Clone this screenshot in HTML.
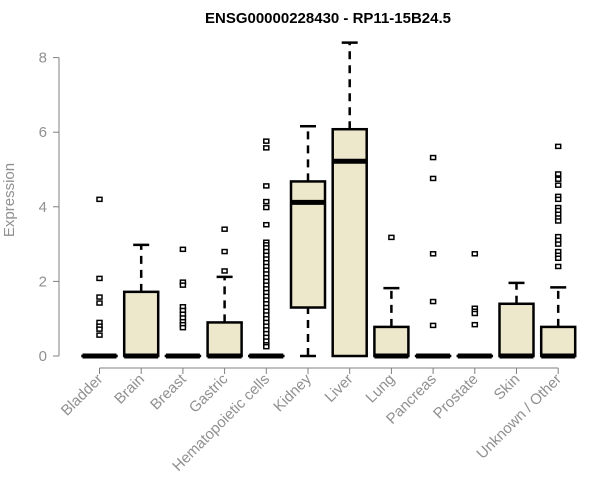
<!DOCTYPE html>
<html><head><meta charset="utf-8"><style>
body{margin:0;background:#fff;}
svg{display:block;font-family:"Liberation Sans",Arial,sans-serif;}
</style></head><body>
<svg id="chart" width="600" height="500">
<text x="328" y="23" text-anchor="middle" font-weight="bold" font-size="15" fill="#000">ENSG00000228430 - RP11-15B24.5</text>
<text transform="translate(14,200) rotate(-90)" text-anchor="middle" font-size="15" fill="#909090">Expression</text>
<g id="yaxis"></g>
<g id="xaxis"></g>
<g id="boxes"></g>
</svg>
<script>
const categories=["Bladder","Brain","Breast","Gastric","Hematopoietic cells","Kidney","Liver","Lung","Pancreas","Prostate","Skin","Unknown / Other"];
const q1=[0,0,0,0,0,1.3,0,0,0,0,0,0];
const medians=[0,0,0,0,0,4.12,5.22,0,0,0,0,0];
const q3=[0,1.72,0,0.9,0,4.68,6.08,0.78,0,0,1.4,0.78];
const whiskLo=[0,0,0,0,0,0,0,0,0,0,0,0];
const whiskHi=[0,2.98,0,2.12,0,6.16,8.4,1.82,0,0,1.96,1.84];
const outliers=[
[4.2,2.08,1.58,1.42,0.9,0.8,0.72,0.56],
[],
[2.86,1.98,1.9,1.32,1.22,1.12,1.02,0.92,0.84,0.76],
[3.4,2.8,2.28],
[5.76,5.58,4.56,4.14,3.98,3.52,3.05,2.98,2.9,2.8,2.7,2.6,2.5,2.4,2.3,2.2,2.1,2.0,1.9,1.8,1.7,1.6,1.5,1.4,1.3,1.2,1.1,1.0,0.9,0.8,0.7,0.6,0.5,0.4,0.3,0.25],
[],[],
[3.18],
[5.32,4.76,2.74,1.46,0.82],
[2.74,1.28,1.2,1.14,0.84],
[],
[5.62,4.88,4.74,4.58,4.28,4.2,3.98,3.9,3.8,3.7,3.62,3.2,3.1,3.0,2.8,2.7,2.62,2.4]
];
const yTicks=[0,2,4,6,8];
const NS="http://www.w3.org/2000/svg";
const y=v=>356-v*37.3;
const x=i=>99.5+i*41.7;
function mk(tag,attrs,parent){const e=document.createElementNS(NS,tag);for(const k in attrs)e.setAttribute(k,attrs[k]);parent.appendChild(e);return e;}
const ya=document.getElementById('yaxis');
mk('line',{x1:59,x2:59,y1:y(0),y2:y(8),stroke:'#808080'},ya);
yTicks.forEach(t=>{
 const l=mk('line',{x1:53,x2:59,y1:y(t),y2:y(t),stroke:'#808080'},ya);
 
 
 const tx=mk('text',{x:47,y:y(t)+5,'text-anchor':'end','font-size':15,fill:'#909090'},ya);
 tx.textContent=t;
 
 
});
const xa=document.getElementById('xaxis');
mk('line',{x1:x(0),x2:x(categories.length-1),y1:368,y2:368,stroke:'#808080'},xa);
categories.forEach((c,i)=>{
 const l=mk('line',{x1:x(i),x2:x(i),y1:368,y2:374,stroke:'#808080'},xa);
 
 
 const tx=mk('text',{transform:`translate(${x(i)+4},${380}) rotate(-45)`,'text-anchor':'end','font-size':15,fill:'#909090'},xa);
 tx.textContent=c;
 
 
});
const bx=document.getElementById('boxes');
const hw=17;
categories.forEach((c,i)=>{
 const g=mk('g',{},bx);
 
 
 const cx=x(i);
 if(whiskHi[i]>q3[i]){
  mk('line',{x1:cx,x2:cx,y1:y(q3[i]),y2:y(whiskHi[i]),stroke:'#000','stroke-width':2.5,'stroke-dasharray':'8,6'},g);
  mk('line',{x1:cx-8,x2:cx+8,y1:y(whiskHi[i]),y2:y(whiskHi[i]),stroke:'#000','stroke-width':2.5},g);
 }
 if(q1[i]>whiskLo[i]){
  mk('line',{x1:cx,x2:cx,y1:y(whiskLo[i]),y2:y(q1[i]),stroke:'#000','stroke-width':2.5,'stroke-dasharray':'8,6'},g);
  mk('line',{x1:cx-8,x2:cx+8,y1:y(whiskLo[i]),y2:y(whiskLo[i]),stroke:'#000','stroke-width':2.5},g);
 }
 const h=Math.max(y(q1[i])-y(q3[i]),0.01);
 mk('rect',{x:cx-hw,y:y(q3[i]),width:hw*2,height:h,fill:'#ede7cc',stroke:'#000','stroke-width':2.5},g);
 mk('line',{x1:cx-hw,x2:cx+hw,y1:y(medians[i]),y2:y(medians[i]),stroke:'#000','stroke-width':5},g);
 outliers[i].forEach(v=>{
  const r=mk('rect',{x:cx-2.5,y:y(v)-2,width:5,height:4,fill:'#fff',stroke:'#000','stroke-width':1.5},g);
  
  
 });
});
</script>
</body></html>
